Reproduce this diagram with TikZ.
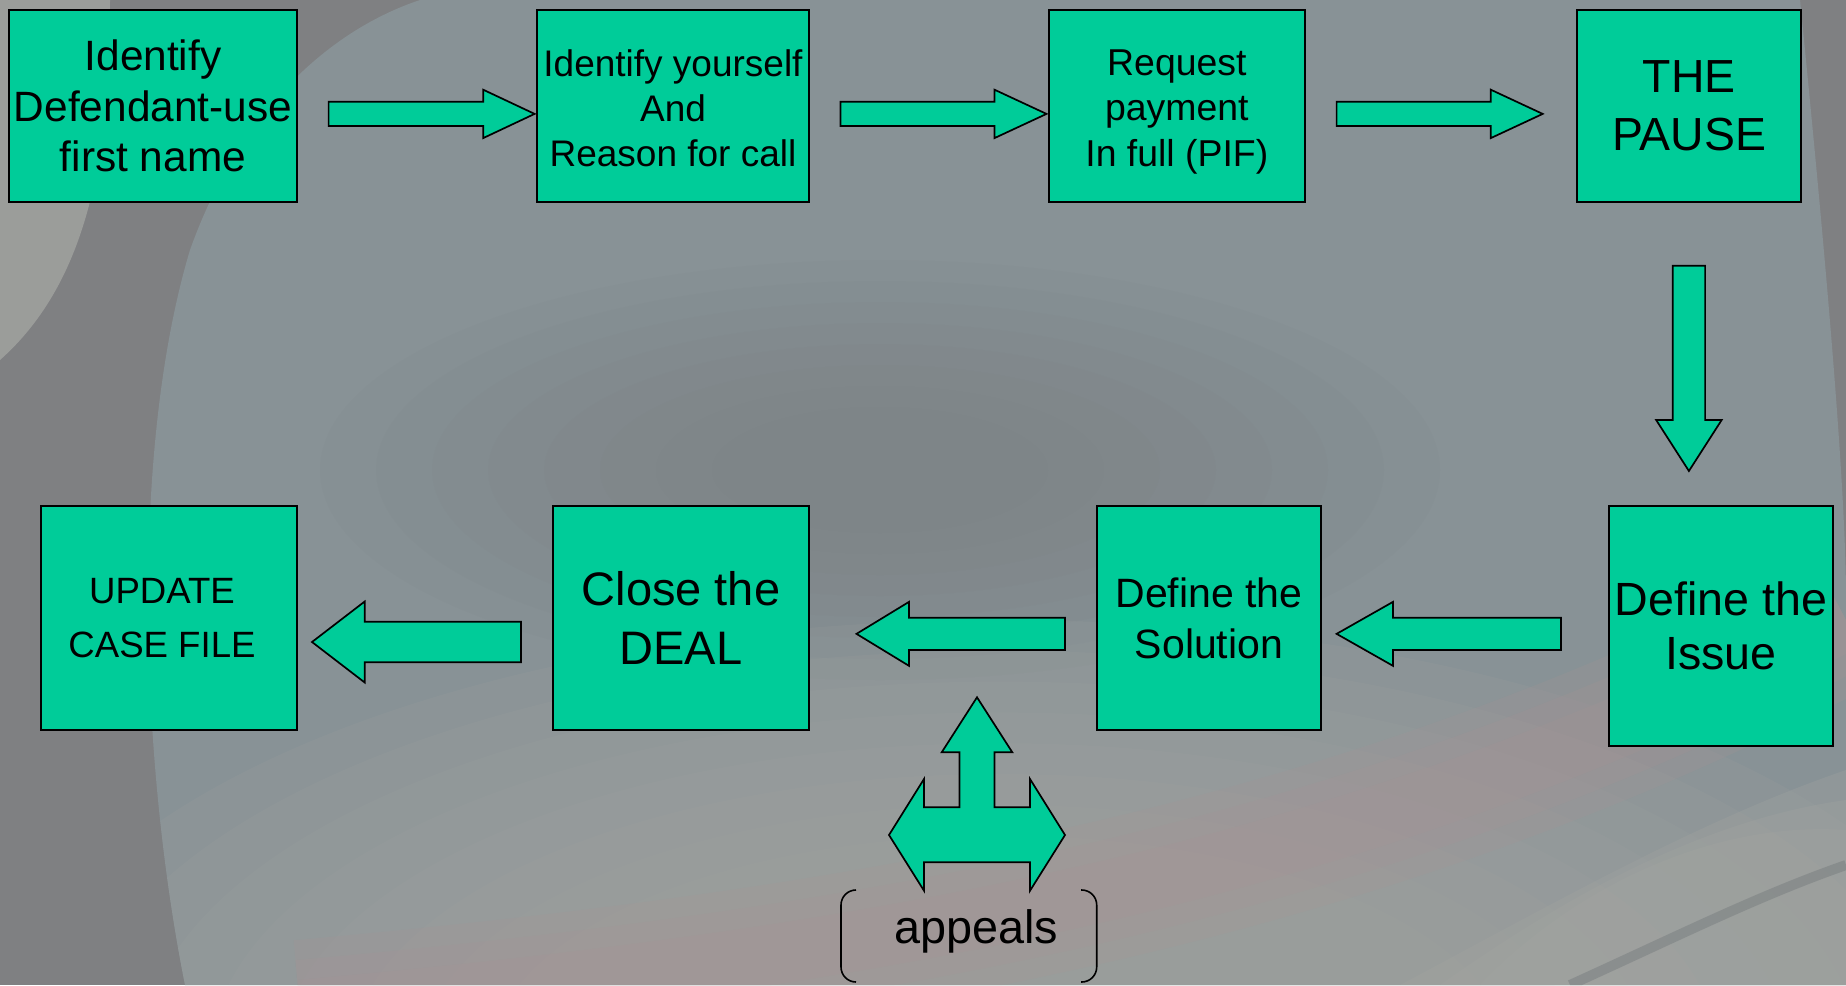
\documentclass[tikz,border=0pt]{standalone}
\usepackage{fontspec}
\setmainfont{Liberation Sans}
\definecolor{boxgreen}{RGB}{0,204,153}
\definecolor{bgbase}{RGB}{127,128,130}
\definecolor{bgblob}{RGB}{136,146,150}
\definecolor{bglight}{RGB}{163,165,161}
\definecolor{bgred}{RGB}{170,146,148}
\definecolor{bgdark}{RGB}{120,125,127}
\tikzset{
  stepbox/.style={draw=black, line width=1pt, fill=boxgreen, inner sep=0pt, outer sep=0pt, align=center, text=black},
  steptext/.style={inner sep=0pt, align=center, text=black},
  blockarrow/.style={draw=black, line width=0.85pt, fill=boxgreen, line join=miter},
  bracketline/.style={draw=black, line width=0.8pt, rounded corners=7.5pt},
}
% horizontal block arrow: tail x, head-back x, tip x, centre y, shaft half-height, head half-height
\newcommand\hblockarrow[6]{%
  \draw[blockarrow] (#1,#4-#5) -- (#2,#4-#5) -- (#2,#4-#6) -- (#3,#4) -- (#2,#4+#6) -- (#2,#4+#5) -- (#1,#4+#5) -- cycle;}
% vertical block arrow: tail y, head-back y, tip y, centre x, shaft half-width, head half-width
\newcommand\vblockarrow[6]{%
  \draw[blockarrow] (#4-#5,#1) -- (#4-#5,#2) -- (#4-#6,#2) -- (#4,#3) -- (#4+#6,#2) -- (#4+#5,#2) -- (#4+#5,#1) -- cycle;}
\begin{document}
\begin{tikzpicture}[x=0.5pt, y=-0.5pt]
\useasboundingbox (0,0) rectangle (1846,985);
% ---------- background (photo approximation) ----------
\fill[bgbase] (0,0) rectangle (1846,985);
\fill[bglight, opacity=0.8] (0,0) -- (110,0) .. controls (110,150) and (90,280) .. (0,360) -- cycle;
\fill[bgblob] (185,985) .. controls (140,760) and (130,450) .. (190,250)
   .. controls (240,110) and (330,30) .. (420,0) -- (1800,0)
   .. controls (1830,300) and (1846,500) .. (1846,600) -- (1846,985) -- cycle;
\foreach \k in {1.0,0.9,0.8,0.7,0.6,0.5,0.4,0.3}
  \fill[bgdark, opacity=0.08] (880,470) ellipse [x radius=560*\k, y radius=210*\k];
\begin{scope}
\clip (185,985) .. controls (140,760) and (130,450) .. (190,250)
   .. controls (240,110) and (330,30) .. (420,0) -- (1846,0) -- (1846,985) -- cycle;
\foreach \k in {1.0,0.93,0.86,0.79,0.72,0.65,0.58,0.51}
  \fill[bglight, opacity=0.15] (1000,1060) ellipse [x radius=1000*\k, y radius=440*\k];
\foreach \w in {70,50,30}
  \draw[bgred, opacity=0.18, line width=\w pt] (300,1010) .. controls (850,960) and (1350,880) .. (1846,620);
\foreach \k in {0,1,2}
  \fill[bglight, opacity=0.3] (1400+\k*40,985) .. controls (1560,900) and (1700,820) .. (1846,770+\k*30) -- (1846,985) -- cycle;
\draw[bgdark, line width=5pt, opacity=0.5] (1570,985) .. controls (1680,935) and (1760,895) .. (1846,865);
\end{scope}
% ---------- boxes ----------
\node[stepbox, minimum width=144pt, minimum height=95.85pt, font=\fontsize{21.2}{25.3}\selectfont]
  (a) at (153,105.85) {Identify\\Defendant-use\\first name};
\node[stepbox, minimum width=136pt, minimum height=95.85pt] (b) at (673,105.85) {};
\node[steptext, font=\fontsize{18.5}{22.7}\selectfont] (btext) at ([yshift=-1.2pt]b.center) {Identify yourself\\And\\Reason for call};
\node[stepbox, minimum width=127.85pt, minimum height=95.85pt] (c) at (1176.85,105.85) {};
\node[steptext, font=\fontsize{18.7}{22.7}\selectfont] (ctext) at ([yshift=-3pt]c.center) {Request\\payment\\In full (PIF)};
\node[stepbox, minimum width=112.3pt, minimum height=95.85pt, font=\fontsize{23.2}{29.2}\selectfont]
  (d) at (1689.1,105.85) {THE\\PAUSE};
\node[stepbox, minimum width=112.3pt, minimum height=119.85pt, font=\fontsize{23.3}{26.7}\selectfont]
  (e) at (1721.1,625.85) {Define the\\Issue};
\node[stepbox, minimum width=112pt, minimum height=112.15pt, font=\fontsize{20.5}{25.5}\selectfont]
  (f) at (1209,617.85) {Define the\\Solution};
\node[stepbox, minimum width=128pt, minimum height=112.15pt, font=\fontsize{23.5}{29.2}\selectfont]
  (g) at (681,617.85) {Close the\\DEAL};
\node[stepbox, minimum width=128pt, minimum height=112.15pt] (h) at (169,617.85) {};
\node[steptext, font=\fontsize{18.3}{27}\selectfont] (htext) at ([xshift=-3.5pt]h.center) {UPDATE\\CASE FILE};
% ---------- block arrows ----------
\hblockarrow{328.6}{483.2}{534.6}{113.9}{12.15}{24.2}
\hblockarrow{840.4}{994.5}{1046.5}{113.9}{12.15}{24.2}
\hblockarrow{1336.6}{1490.8}{1542.7}{113.9}{12.15}{24.2}
\vblockarrow{265.7}{420}{471}{1688.9}{16.2}{32.75}
\hblockarrow{1561}{1393}{1336.6}{633.85}{16.15}{32}
\hblockarrow{1065}{909}{856.5}{633.85}{16.15}{32}
\hblockarrow{521}{364.7}{312}{642}{20.3}{40.5}
% ---------- three-way arrow ----------
\draw[blockarrow] (977,697.3) -- (1012.3,752.3) -- (994.5,752.3) -- (994.5,807.3)
  -- (1030,807.3) -- (1030,779) -- (1065,835) -- (1030,890.7) -- (1030,862.3)
  -- (924,862.3) -- (924,890.7) -- (889,835) -- (924,779) -- (924,807.3)
  -- (959.5,807.3) -- (959.5,752.3) -- (941.7,752.3) -- cycle;
% ---------- appeals ----------
\node[anchor=base, inner sep=0pt, font=\fontsize{23.4}{28}\selectfont] (appeals) at (976,943.3) {appeals};
\draw[bracketline] (856,890) -- (841,890) -- (841,982) -- (856,982);
\draw[bracketline] (1081,890) -- (1096.7,890) -- (1096.7,982) -- (1081,982);
\end{tikzpicture}
\end{document}
